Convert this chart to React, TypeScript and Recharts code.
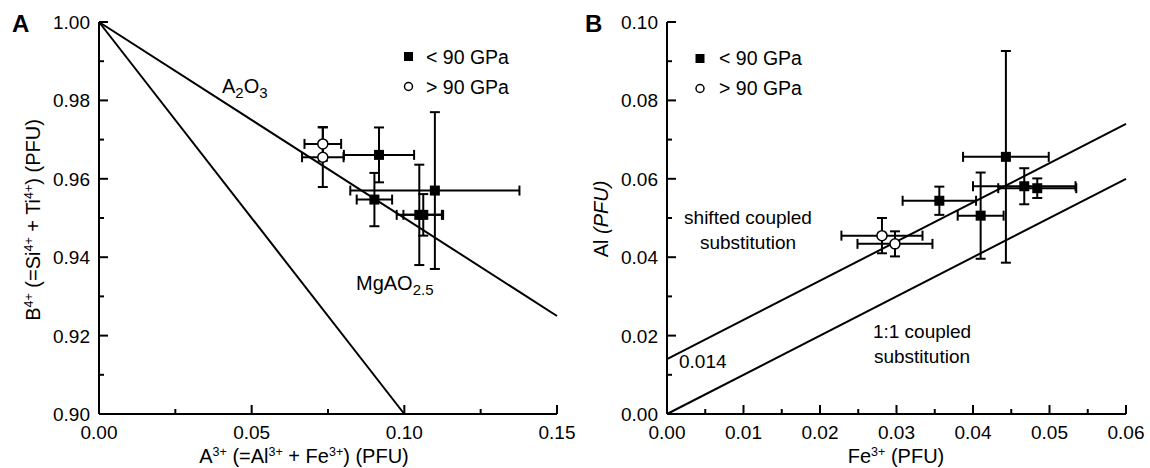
import React from 'react';
import { ScatterChart, Scatter, XAxis, YAxis, ErrorBar, ReferenceLine } from 'recharts';

const FONT = '"Liberation Sans", Arial, Helvetica, sans-serif';

// ---------- Panel A data ----------
const aLowX = [0.0917, 0.0902, 0.11, 0.1049, 0.1062];
const aLowY = [0.9661, 0.9547, 0.957, 0.9508, 0.9508];
const aLowEx = [0.0115, 0.0058, 0.0277, 0.0074, 0.0065];
const aLowEy = [0.007, 0.0068, 0.02, 0.0128, 0.0053];

const aHighX = [0.0733, 0.0733];
const aHighY = [0.9689, 0.9655];
const aHighEx = [0.006, 0.0068];
const aHighEy = [0.0043, 0.0076];

const aLineA2O3X = [0, 0.15];
const aLineA2O3Y = [1.0, 0.925];
const aLineMgX = [0, 0.1];
const aLineMgY = [1.0, 0.9];

const aXTicks = [0, 0.025, 0.05, 0.075, 0.1, 0.125, 0.15];
const aXMajor = [0, 0.05, 0.1, 0.15];
const aYTicks = [0.9, 0.91, 0.92, 0.93, 0.94, 0.95, 0.96, 0.97, 0.98, 0.99, 1.0];
const aYMajor = [0.9, 0.92, 0.94, 0.96, 0.98, 1.0];

// ---------- Panel B data ----------
const bLowX = [0.0443, 0.0467, 0.0484, 0.0356, 0.041];
const bLowY = [0.0656, 0.0581, 0.0576, 0.0544, 0.0506];
const bLowEx = [0.0056, 0.0067, 0.0051, 0.0048, 0.003];
const bLowEy = [0.027, 0.0046, 0.0025, 0.0036, 0.011];

const bHighX = [0.0281, 0.0298];
const bHighY = [0.0455, 0.0434];
const bHighEx = [0.0053, 0.0049];
const bHighEy = [0.0045, 0.0032];

const bLine11X = [0, 0.06];
const bLine11Y = [0, 0.06];
const bLineShiftX = [0, 0.06];
const bLineShiftY = [0.014, 0.074];

const bXTicks = [0, 0.005, 0.01, 0.015, 0.02, 0.025, 0.03, 0.035, 0.04, 0.045, 0.05, 0.055, 0.06];
const bXMajor = [0, 0.01, 0.02, 0.03, 0.04, 0.05, 0.06];
const bYTicks = [0, 0.01, 0.02, 0.03, 0.04, 0.05, 0.06, 0.07, 0.08, 0.09, 0.1];
const bYMajor = [0, 0.02, 0.04, 0.06, 0.08, 0.1];

const rows = (xs: number[], ys: number[], exs: number[], eys: number[]) =>
  xs.map((x, i) => ({ x, y: ys[i], ex: exs[i], ey: eys[i] }));

const seg = (xs: number[], ys: number[]) => [
  { x: xs[0], y: ys[0] },
  { x: xs[1], y: ys[1] },
];

type Side = 'bottom' | 'left' | 'top' | 'right';

function tickFactory(side: Side, majors: number[], label: boolean) {
  return (props: any) => {
    const { x, y, payload } = props;
    const v = payload.value as number;
    const major = majors.some((m) => Math.abs(m - v) < 1e-9);
    const len = major ? 9 : 5;
    let x2 = x;
    let y2 = y;
    if (side === 'bottom') y2 = y - len;
    if (side === 'top') y2 = y + len;
    if (side === 'left') x2 = x + len;
    if (side === 'right') x2 = x - len;
    return (
      <g>
        <line x1={x} y1={y} x2={x2} y2={y2} stroke="#000" strokeWidth={2} />
        {label && major && side === 'bottom' && (
          <text x={x} y={y + 25} textAnchor="middle" fontSize={19} fontFamily={FONT} fill="#000">
            {v.toFixed(2)}
          </text>
        )}
        {label && major && side === 'left' && (
          <text x={x - 9} y={y + 7} textAnchor="end" fontSize={19} fontFamily={FONT} fill="#000">
            {v.toFixed(2)}
          </text>
        )}
      </g>
    );
  };
}

const squareShape = (p: any) => <rect x={p.cx - 5} y={p.cy - 5} width={10} height={10} fill="#000" />;
const circleShape = (p: any) => <circle cx={p.cx} cy={p.cy} r={5} fill="#fff" stroke="#000" strokeWidth={1.5} />;

const axisLine = { stroke: '#000', strokeWidth: 2 };

function Panel(props: {
  width: number;
  leftW: number;
  right: number;
  xDomain: [number, number];
  yDomain: [number, number];
  xTicks: number[];
  xMajor: number[];
  yTicks: number[];
  yMajor: number[];
  low: any[];
  high: any[];
  lines: { x: number; y: number }[][];
}) {
  const { width, leftW, right, xDomain, yDomain, xTicks, xMajor, yTicks, yMajor, low, high, lines } = props;
  return (
    <ScatterChart width={width} height={468} margin={{ top: 22, right, bottom: 0, left: 0 }}>
      <XAxis
        xAxisId={0}
        type="number"
        dataKey="x"
        domain={xDomain}
        ticks={xTicks}
        interval={0}
        allowDataOverflow
        height={54}
        tickSize={0}
        tickMargin={0}
        tickLine={false}
        axisLine={axisLine}
        tick={tickFactory('bottom', xMajor, true)}
      />
      <XAxis
        xAxisId="top"
        orientation="top"
        type="number"
        domain={xDomain}
        ticks={xTicks}
        interval={0}
        allowDataOverflow
        height={0}
        tickSize={0}
        tickMargin={0}
        tickLine={false}
        axisLine={axisLine}
        tick={tickFactory('top', xMajor, false)}
      />
      <YAxis
        yAxisId={0}
        type="number"
        dataKey="y"
        domain={yDomain}
        ticks={yTicks}
        interval={0}
        allowDataOverflow
        width={leftW}
        tickSize={0}
        tickMargin={0}
        tickLine={false}
        axisLine={axisLine}
        tick={tickFactory('left', yMajor, true)}
      />
      <YAxis
        yAxisId="right"
        orientation="right"
        type="number"
        domain={yDomain}
        ticks={yTicks}
        interval={0}
        allowDataOverflow
        width={0}
        tickSize={0}
        tickMargin={0}
        tickLine={false}
        axisLine={axisLine}
        tick={tickFactory('right', yMajor, false)}
      />
      {lines.map((s, i) => (
        <ReferenceLine key={i} xAxisId={0} yAxisId={0} segment={s} stroke="#000" strokeWidth={2} ifOverflow="visible" />
      ))}
      <Scatter data={low} shape={squareShape} isAnimationActive={false} xAxisId={0} yAxisId={0}>
        <ErrorBar dataKey="ex" direction="x" width={5} stroke="#000" strokeWidth={2} />
        <ErrorBar dataKey="ey" direction="y" width={5} stroke="#000" strokeWidth={2} />
      </Scatter>
      <Scatter data={high} shape={circleShape} isAnimationActive={false} xAxisId={0} yAxisId={0}>
        <ErrorBar dataKey="ex" direction="x" width={5} stroke="#000" strokeWidth={2} />
        <ErrorBar dataKey="ey" direction="y" width={5} stroke="#000" strokeWidth={2} />
      </Scatter>
    </ScatterChart>
  );
}

const T = (p: any) => <text fontFamily={FONT} fill="#000" {...p} />;

export default function App() {
  const aLow = rows(aLowX, aLowY, aLowEx, aLowEy);
  const aHigh = rows(aHighX, aHighY, aHighEx, aHighEy);
  const bLow = rows(bLowX, bLowY, bLowEx, bLowEy);
  const bHigh = rows(bHighX, bHighY, bHighEx, bHighEy);
  return (
    <div style={{ position: 'absolute', left: 0, top: 0, width: 1150, height: 468, background: '#fff' }}>
      <div style={{ position: 'absolute', left: 0, top: 0 }}>
        <Panel
          width={575}
          leftW={99}
          right={18}
          xDomain={[0, 0.15]}
          yDomain={[0.9, 1.0]}
          xTicks={aXTicks}
          xMajor={aXMajor}
          yTicks={aYTicks}
          yMajor={aYMajor}
          low={aLow}
          high={aHigh}
          lines={[seg(aLineA2O3X, aLineA2O3Y), seg(aLineMgX, aLineMgY)]}
        />
      </div>
      <div style={{ position: 'absolute', left: 575, top: 0 }}>
        <Panel
          width={575}
          leftW={92}
          right={24}
          xDomain={[0, 0.06]}
          yDomain={[0, 0.1]}
          xTicks={bXTicks}
          xMajor={bXMajor}
          yTicks={bYTicks}
          yMajor={bYMajor}
          low={bLow}
          high={bHigh}
          lines={[seg(bLine11X, bLine11Y), seg(bLineShiftX, bLineShiftY)]}
        />
      </div>
      <svg
        width={1150}
        height={468}
        style={{ position: 'absolute', left: 0, top: 0, pointerEvents: 'none' }}
      >
        {/* panel letters */}
        <T x={12} y={32} fontSize={24} fontWeight="bold">A</T>
        <T x={585} y={32} fontSize={24} fontWeight="bold">B</T>

        {/* Panel A axis titles */}
        <T x={304} y={463} fontSize={20} textAnchor="middle">
          A<tspan dy={-7} fontSize={12.5}>3+</tspan>
          <tspan dy={7}> (=Al</tspan>
          <tspan dy={-7} fontSize={12.5}>3+</tspan>
          <tspan dy={7}> + Fe</tspan>
          <tspan dy={-7} fontSize={12.5}>3+</tspan>
          <tspan dy={7}>) (PFU)</tspan>
        </T>
        <T x={0} y={0} fontSize={20} textAnchor="middle" transform="translate(40,220) rotate(-90)">
          B<tspan dy={-7} fontSize={12.5}>4+</tspan>
          <tspan dy={7}> (=Si</tspan>
          <tspan dy={-7} fontSize={12.5}>4+</tspan>
          <tspan dy={7}> + Ti</tspan>
          <tspan dy={-7} fontSize={12.5}>4+</tspan>
          <tspan dy={7}>) (PFU)</tspan>
        </T>

        {/* Panel A annotations */}
        <T x={222} y={93} fontSize={20}>
          A<tspan dy={5} fontSize={15}>2</tspan>
          <tspan dy={-5}>O</tspan>
          <tspan dy={5} fontSize={15}>3</tspan>
        </T>
        <T x={356} y={290} fontSize={20}>
          MgAO<tspan dy={5} fontSize={15}>2.5</tspan>
        </T>

        {/* Panel A legend */}
        <rect x={404} y={52} width={9} height={9} fill="#000" />
        <circle cx={408.5} cy={86.5} r={4} fill="#fff" stroke="#000" strokeWidth={1.5} />
        <T x={426} y={64} fontSize={19.5}>&lt; 90 GPa</T>
        <T x={426} y={94} fontSize={19.5}>&gt; 90 GPa</T>

        {/* Panel B axis titles */}
        <T x={896} y={463} fontSize={20} textAnchor="middle">
          Fe<tspan dy={-7} fontSize={12.5}>3+</tspan>
          <tspan dy={7}> (PFU)</tspan>
        </T>
        <T x={0} y={0} fontSize={20} textAnchor="middle" transform="translate(608,219) rotate(-90)">
          Al <tspan fontStyle="italic">(PFU)</tspan>
        </T>

        {/* Panel B legend */}
        <rect x={695.5} y={54} width={9} height={9} fill="#000" />
        <circle cx={700} cy={88.5} r={4} fill="#fff" stroke="#000" strokeWidth={1.5} />
        <T x={719} y={65} fontSize={19.5}>&lt; 90 GPa</T>
        <T x={719} y={95} fontSize={19.5}>&gt; 90 GPa</T>

        {/* Panel B annotations */}
        <T x={748} y={224} fontSize={19} textAnchor="middle">shifted coupled</T>
        <T x={748} y={249} fontSize={19} textAnchor="middle">substitution</T>
        <T x={922} y={338} fontSize={19} textAnchor="middle">1:1 coupled</T>
        <T x={922} y={363} fontSize={19} textAnchor="middle">substitution</T>
        <T x={679} y={368} fontSize={19}>0.014</T>
      </svg>
    </div>
  );
}
